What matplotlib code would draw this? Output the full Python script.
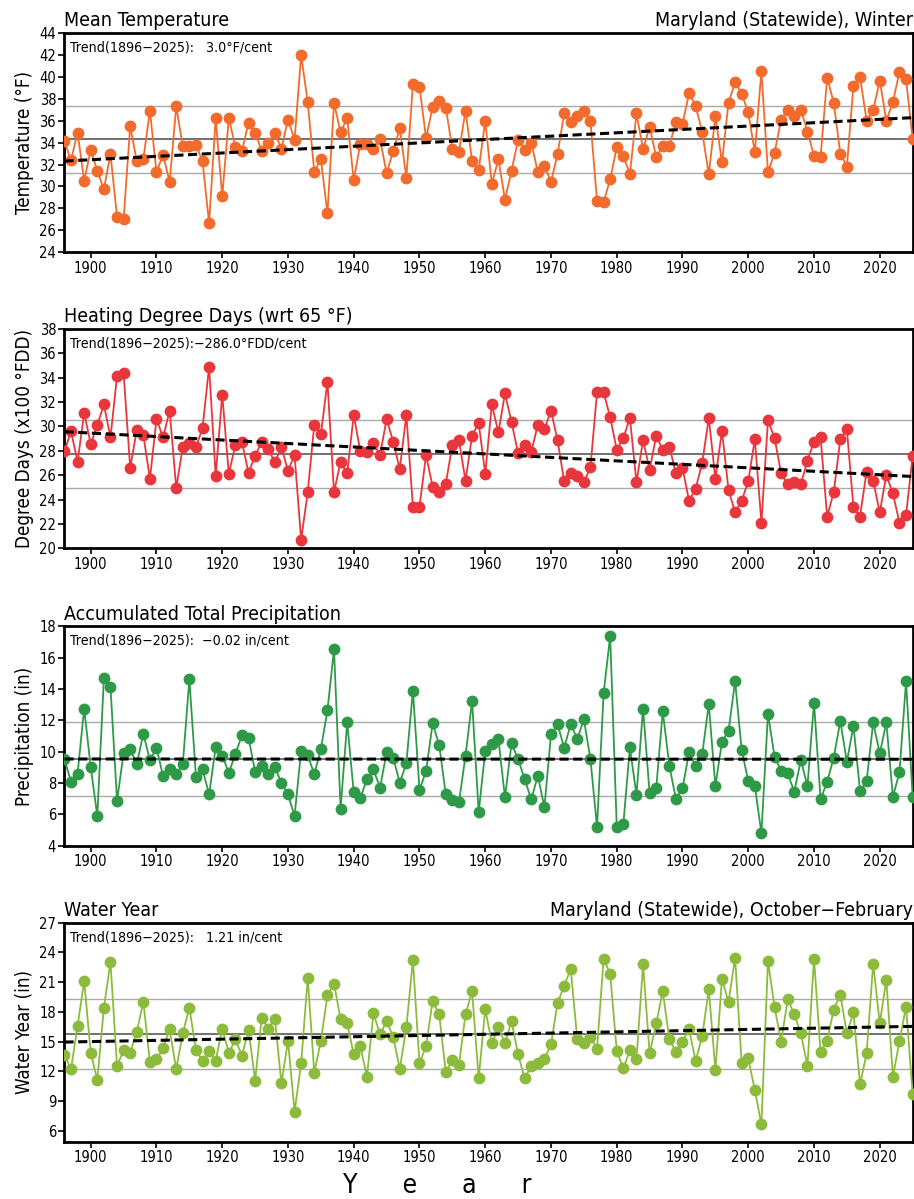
import numpy as np
import matplotlib
matplotlib.use('Agg')
import matplotlib.pyplot as plt
from matplotlib import font_manager

# pick a narrow font if one is around
names = {f.name for f in font_manager.fontManager.ttflist}
if 'Liberation Sans Narrow' in names:
    plt.rcParams['font.family'] = ['Liberation Sans Narrow', 'DejaVu Sans']
else:
    plt.rcParams['font.family'] = ['DejaVu Sans']
    plt.rcParams['font.stretch'] = 'condensed'

years = np.arange(1896, 2026)

temp = [34.1, 32.4, 34.9, 30.5, 33.35, 31.4, 29.75, 32.95, 27.25, 27.0,
        35.5, 32.3, 32.5, 36.9, 31.3, 32.9, 30.4, 37.3, 33.65, 33.65,
        33.8, 32.3, 26.65, 36.2, 29.1, 36.25, 33.6, 33.25, 35.8, 34.9,
        33.25, 34.0, 34.85, 33.45, 36.1, 34.25, 41.95, 37.7, 31.35, 32.5,
        27.55, 37.6, 34.95, 36.2, 30.55, 33.9, 33.9, 33.45, 34.3, 31.2,
        33.2, 35.3, 30.8, 39.3, 39.1, 34.4, 37.25, 37.8, 37.15, 33.45,
        33.15, 36.9, 32.3, 31.5, 36.0, 30.2, 32.5, 28.8, 31.45, 34.25,
        33.35, 34.0, 31.3, 31.9, 30.4, 32.95, 36.65, 35.85, 36.4, 36.9,
        35.95, 28.7, 28.55, 30.65, 33.55, 32.75, 31.15, 36.65, 33.4, 35.4,
        32.7, 33.65, 33.7, 35.85, 35.7, 38.5, 37.35, 34.95, 31.1, 36.4,
        32.2, 37.65, 39.5, 38.45, 36.75, 33.1, 40.5, 31.3, 33.05, 36.1,
        37.0, 36.45, 37.0, 35.0, 32.8, 32.7, 39.9, 37.65, 33.0, 31.8,
        39.2, 40.0, 36.0, 36.95, 39.65, 36.0, 37.7, 40.45, 39.75, 34.35]

hdd = [27.95, 29.6, 27.1, 31.1, 28.55, 30.1, 31.8, 29.1, 34.1, 34.35,
       26.6, 29.7, 29.3, 25.7, 30.6, 29.1, 31.3, 24.95, 28.3, 28.6,
       28.3, 29.85, 34.9, 25.95, 32.6, 26.1, 28.5, 28.7, 26.2, 27.6,
       28.7, 28.15, 27.05, 28.3, 26.35, 27.65, 20.7, 24.6, 30.15, 29.35,
       33.65, 24.6, 27.1, 26.15, 30.95, 27.95, 27.9, 28.65, 27.65, 30.6,
       28.75, 26.5, 30.95, 23.4, 23.4, 27.65, 25.05, 24.6, 25.3, 28.5,
       28.85, 25.55, 29.25, 30.3, 26.1, 31.8, 29.5, 32.7, 30.35, 27.8,
       28.5, 27.9, 30.15, 29.75, 31.3, 28.85, 25.5, 26.15, 25.9, 25.4,
       26.65, 32.8, 32.8, 30.75, 28.1, 29.05, 30.7, 25.4, 28.9, 26.45,
       29.2, 28.1, 28.35, 26.15, 26.6, 23.9, 24.9, 27.0, 30.7, 25.7,
       29.65, 24.8, 22.95, 23.9, 25.5, 28.95, 22.1, 30.5, 29.05, 26.15,
       25.25, 25.4, 25.25, 27.2, 28.75, 29.1, 22.6, 24.6, 28.95, 29.75,
       23.35, 22.6, 26.3, 25.55, 22.95, 26.0, 24.5, 22.1, 22.75, 27.55]

precip = [9.52, 8.08, 8.6, 12.75, 9.0, 5.9, 14.7, 14.15, 6.85, 9.93,
          10.15, 9.2, 11.15, 9.45, 10.25, 8.44, 8.86, 8.55, 9.18, 14.62,
          8.4, 8.89, 7.27, 10.27, 9.74, 8.65, 9.84, 11.05, 10.9, 8.72,
          9.1, 8.55, 9.0, 8.01, 7.27, 5.89, 10.05, 9.78, 8.55, 10.16,
          12.63, 16.53, 6.34, 11.86, 7.4, 7.02, 8.25, 8.86, 7.7, 9.95,
          9.61, 8.01, 9.25, 13.88, 7.55, 8.76, 11.8, 10.42, 7.27, 6.91,
          6.76, 9.74, 13.24, 6.12, 10.05, 10.48, 10.78, 7.08, 10.52, 9.52,
          8.23, 6.95, 8.46, 6.44, 11.1, 11.75, 10.25, 11.75, 10.8, 12.05,
          9.52, 5.17, 13.71, 17.38, 5.21, 5.36, 10.27, 7.23, 12.75, 7.33,
          7.65, 12.58, 9.1, 6.97, 7.65, 9.95, 9.1, 9.84, 13.03, 7.8,
          10.63, 11.31, 14.5, 10.1, 8.12, 7.82, 4.79, 12.43, 9.67, 8.78,
          8.61, 7.44, 9.46, 7.8, 13.13, 6.95, 8.08, 9.61, 11.95, 9.35,
          11.65, 7.5, 8.12, 11.86, 9.88, 11.86, 7.12, 8.67, 14.5, 7.12]

water = [13.63, 12.22, 16.58, 21.12, 13.86, 11.11, 18.4, 23.03, 12.55, 14.13,
         13.86, 15.98, 19.0, 12.95, 13.19, 14.3, 16.25, 12.22, 15.81, 18.43,
         14.13, 13.06, 14.03, 13.06, 16.31, 13.86, 15.21, 13.56, 16.21, 11.04,
         17.39, 16.31, 17.32, 10.77, 15.07, 7.91, 12.79, 21.42, 11.85, 15.07,
         19.67, 20.85, 17.26, 16.82, 13.73, 14.53, 11.44, 17.83, 15.71, 17.05,
         15.47, 12.22, 16.42, 23.2, 12.79, 14.53, 19.1, 17.73, 11.88, 13.12,
         12.62, 17.76, 20.08, 11.27, 18.26, 14.87, 16.42, 14.8, 17.05, 13.69,
         11.27, 12.55, 12.79, 13.22, 14.7, 18.9, 20.62, 22.3, 15.21, 14.87,
         15.47, 14.23, 23.3, 21.86, 14.06, 12.28, 14.13, 13.19, 22.8, 13.79,
         16.82, 20.08, 15.21, 13.96, 14.97, 16.25, 13.02, 15.54, 20.28, 12.11,
         21.29, 19.0, 23.44, 12.79, 13.29, 10.1, 6.64, 23.1, 18.5, 14.97,
         19.27, 17.73, 15.81, 12.55, 23.37, 13.9, 15.07, 18.23, 19.74, 15.81,
         17.93, 10.67, 13.79, 22.87, 16.82, 21.25, 11.44, 15.04, 18.5, 9.7]

titles = ['Mean Temperature', 'Heating Degree Days (wrt 65 \u00b0F)',
          'Accumulated Total Precipitation', 'Water Year']
right_titles = ['Maryland (Statewide), Winter', '', '',
                'Maryland (Statewide), October\u2212February']
ylabels = ['Temperature (\u00b0F)', 'Degree Days (x100 \u00b0FDD)',
           'Precipitation (in)', 'Water Year (in)']
trends = ['Trend(1896\u22122025):   3.0\u00b0F/cent',
          'Trend(1896\u22122025):\u2212286.0\u00b0FDD/cent',
          'Trend(1896\u22122025):  \u22120.02 in/cent',
          'Trend(1896\u22122025):   1.21 in/cent']
colors = ['#f26a2c', '#e9363c', '#2e9a48', '#8cbb3c']
ylims = [(24, 44), (20, 38), (4, 18), (4.85, 27)]
yticks = [np.arange(24, 45, 2), np.arange(20, 39, 2),
          np.arange(4, 19, 2), np.arange(6, 28, 3)]
series = [temp, hdd, precip, water]

fig = plt.figure(figsize=(9.14, 11.99), dpi=100)
bottoms = [0.7896, 0.5427, 0.2947, 0.0475]

for i in range(4):
    ax = fig.add_axes([0.0705, bottoms[i], 0.928, 0.1830])
    vals = np.array(series[i])
    m = vals.mean()
    s = vals.std()
    ax.axhline(m, color='#666666', lw=1.3, zorder=1)
    ax.axhline(m + s, color='#aaaaaa', lw=1.0, zorder=1)
    ax.axhline(m - s, color='#aaaaaa', lw=1.0, zorder=1)
    ax.plot(years, vals, color=colors[i], lw=1.3, marker='o', ms=8.5,
            markeredgewidth=0, zorder=3)
    p = np.polyfit(years, vals, 1)
    ax.plot(years, np.polyval(p, years), color='black', ls='--', lw=2.2,
            dashes=(3, 1.5), zorder=4)
    ax.set_xlim(1896, 2025)
    ax.set_ylim(*ylims[i])
    ax.set_yticks(yticks[i])
    ax.set_xticks(np.arange(1900, 2021, 10))
    ax.tick_params(direction='out', length=4, width=1.2, labelsize=10.5, pad=2)
    for sp in ax.spines.values():
        sp.set_linewidth(2)
    ax.set_ylabel(ylabels[i], fontsize=13.5)
    ax.text(0.0, 1.012, titles[i], transform=ax.transAxes, ha='left',
            va='bottom', fontsize=14)
    if right_titles[i]:
        ax.text(1.0, 1.012, right_titles[i], transform=ax.transAxes,
                ha='right', va='bottom', fontsize=14)
    ax.text(0.007, 0.965, trends[i], transform=ax.transAxes, ha='left',
            va='top', fontsize=10.2)

fig.text(0.478, 0.011, 'Y      e      a      r', ha='center', va='center',
         fontsize=19)

fig.savefig('out.png', dpi=100)
